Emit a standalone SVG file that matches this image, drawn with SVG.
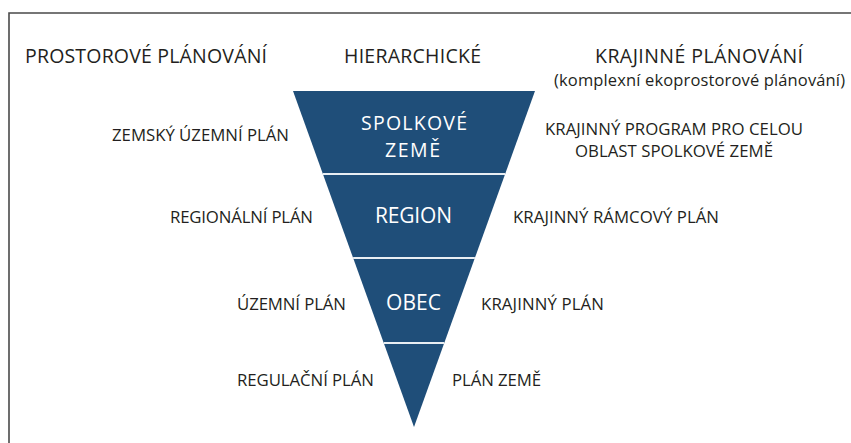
<svg xmlns="http://www.w3.org/2000/svg" width="851" height="443" viewBox="0 0 851 443">
<style>
text{font-family:"Open Sans","Noto Sans","Liberation Sans",sans-serif;fill:#231f20}
.h{font-size:19.5px}
.sub{font-size:16.5px}
.l{font-size:16.8px}
.in{font-size:19.5px;fill:#ffffff}
.in2{font-size:21px;fill:#ffffff}
.sep{stroke:#e9eef3;stroke-width:2}
</style>
<rect width="851" height="443" fill="#ffffff"/>
<g id="frame" fill="none" stroke="#4a4a4a" stroke-width="1.6">
<path d="M9,443 V13 H851"/>
</g>
<g id="headers">
<text class="h" x="25" y="63" textLength="242">PROSTOROVÉ PLÁNOVÁNÍ</text>
<text class="h" x="344" y="63" textLength="137">HIERARCHICKÉ</text>
<text class="h" x="595" y="63" textLength="208">KRAJINNÉ PLÁNOVÁNÍ</text>
<text class="sub" x="554" y="86" textLength="291">(komplexní ekoprostorové plánování)</text>
</g>
<g id="pyramid">
<polygon points="293,91 535,91 414,427" fill="#1f4e79"/>
<line class="sep" x1="322.9" y1="174" x2="505.1" y2="174"/>
<line class="sep" x1="353.1" y1="258" x2="474.9" y2="258"/>
<line class="sep" x1="383.8" y1="343" x2="444.2" y2="343"/>
</g>
<g id="tier-spolkove-zeme">
<text class="in" x="361" y="129.5" textLength="106">SPOLKOVÉ</text>
<text class="in" x="385" y="156.5" textLength="55">ZEMĚ</text>
<text class="l" x="112" y="141" textLength="177">ZEMSKÝ ÚZEMNÍ PLÁN</text>
<text class="l" x="545" y="135" textLength="258">KRAJINNÝ PROGRAM PRO CELOU</text>
<text class="l" x="575" y="157" textLength="198">OBLAST SPOLKOVÉ ZEMĚ</text>
</g>
<g id="tier-region">
<text class="in2" x="375" y="223" textLength="77">REGION</text>
<text class="l" x="170" y="223" textLength="143">REGIONÁLNÍ PLÁN</text>
<text class="l" x="513" y="223" textLength="206">KRAJINNÝ RÁMCOVÝ PLÁN</text>
</g>
<g id="tier-obec">
<text class="in2" x="386" y="310" textLength="55">OBEC</text>
<text class="l" x="237" y="310" textLength="109">ÚZEMNÍ PLÁN</text>
<text class="l" x="481" y="310" textLength="123">KRAJINNÝ PLÁN</text>
</g>
<g id="tier-bottom">
<text class="l" x="237" y="386" textLength="137">REGULAČNÍ PLÁN</text>
<text class="l" x="452" y="386" textLength="89">PLÁN ZEMĚ</text>
</g>
</svg>
